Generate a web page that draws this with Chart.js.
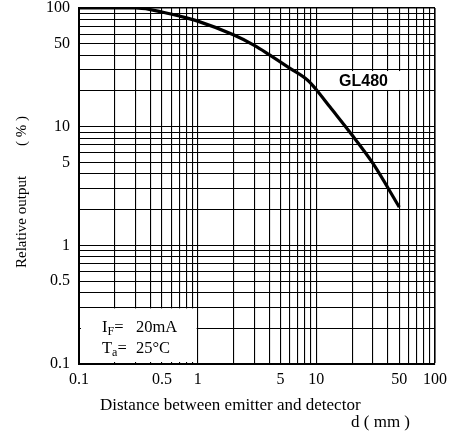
<!DOCTYPE html>
<html>
<head>
<meta charset="utf-8">
<script src="https://cdn.jsdelivr.net/npm/chart.js"></script>
<style>
  html, body { margin: 0; padding: 0; background: #fff; }
  #wrap { width: 455px; height: 439px; position: relative; }
</style>
</head>
<body>
<div id="wrap"><canvas id="chart"></canvas></div>
<script>
// distance (mm) and relative output (%)
const distance = [0.1, 0.3, 0.4, 0.5, 0.7, 1, 2, 3, 4, 6, 8.5, 10, 13, 20, 30, 50];
const relOutput = [100, 100, 97, 92.5, 85.5, 77.5, 59.5, 48.5, 40.5, 31, 24.5, 20.5, 14.7, 8.5, 4.9, 2.1];

// grid lines and labelled ticks
const gridValues = [0.1, 0.2, 0.3, 0.4, 0.5, 0.6, 0.7, 0.8, 0.9,
  1, 2, 3, 4, 5, 6, 7, 8, 9, 10, 20, 30, 40, 50, 60, 70, 80, 90, 100];
const xTickLabels = ['0.1', '0.5', '1', '5', '10', '50', '100'];
const yTickLabels = ['0.1', '0.5', '1', '5', '10', '50', '100'];

const seriesName = 'GL480';
const conditions = [['I', 'F', '=', '20mA'], ['T', 'a', '=', '25°C']];
const xTitle = 'Distance between emitter and detector';
const xUnit = 'd ( mm )';
const yTitle = 'Relative output';
const yUnit = '( % )';

const serif = '"Liberation Serif", "Times New Roman", serif';
Chart.defaults.font.family = serif;
Chart.defaults.color = '#000';

const setTicks = scale => { scale.ticks = gridValues.map(v => ({ value: v })); };
const labelFor = list => v => list.includes(String(v)) ? String(v) : '';
const gridWidth = c => (c.tick && c.tick.value === 100 ? 1.6 : 1.1);

const extras = {
  id: 'extras',
  beforeDatasetsDraw(chart) {
    const { ctx, scales: { x, y } } = chart;
    ctx.save();
    ctx.fillStyle = '#fff';
    // condition box (lower left)
    let l = x.getPixelForValue(0.1) + 2, r = x.getPixelForValue(1) - 1;
    let t = y.getPixelForValue(0.3) + 1, b = y.getPixelForValue(0.1) - 2;
    ctx.fillRect(l, t, r - l, b - t);
    // series label box
    l = x.getPixelForValue(10) + 1; r = x.getPixelForValue(60) - 1;
    t = y.getPixelForValue(30) + 1; b = y.getPixelForValue(20) - 1;
    ctx.fillRect(l, t, r - l, b - t);
    ctx.restore();
  },
  afterDraw(chart) {
    const { ctx, scales: { x, y } } = chart;
    ctx.save();
    ctx.fillStyle = '#000';
    // series label
    ctx.font = 'bold 16px "Liberation Sans", Arial, sans-serif';
    ctx.textAlign = 'center';
    ctx.textBaseline = 'middle';
    ctx.fillText(seriesName, (x.getPixelForValue(10) + x.getPixelForValue(60)) / 2 + 1,
      (y.getPixelForValue(30) + y.getPixelForValue(20)) / 2 + 1);
    // conditions
    ctx.textAlign = 'left';
    ctx.textBaseline = 'alphabetic';
    conditions.forEach((c, i) => {
      let px = 102;
      const base = 332 + i * 21;
      ctx.font = '16.5px ' + serif;
      ctx.fillText(c[0], px, base);
      px += ctx.measureText(c[0]).width;
      ctx.font = '12px ' + serif;
      ctx.fillText(c[1], px, base + 3);
      px += ctx.measureText(c[1]).width;
      ctx.font = '16.5px ' + serif;
      ctx.fillText(c[2], px, base);
      ctx.fillText(c[3], 136, base);
    });
    // axis titles
    ctx.font = '17px ' + serif;
    ctx.fillText(xTitle, 100, 410);
    ctx.fillText(xUnit, 351, 427);
    ctx.translate(26, 268);
    ctx.rotate(-Math.PI / 2);
    ctx.font = '15px ' + serif;
    ctx.fillText(yTitle, 0, 0);
    ctx.fillText(yUnit, 122, 0);
    ctx.restore();
  }
};

new Chart(document.getElementById('chart'), {
  type: 'scatter',
  data: {
    datasets: [{
      label: seriesName,
      data: distance.map((d, i) => ({ x: d, y: relOutput[i] })),
      showLine: true,
      borderColor: '#000',
      borderWidth: 3.2,
      pointRadius: 0,
      cubicInterpolationMode: 'monotone'
    }]
  },
  options: {
    responsive: true,
    maintainAspectRatio: false,
    animation: false,
    layout: { padding: { top: 8, right: 20, left: 0, bottom: 0 } },
    plugins: { legend: { display: false }, tooltip: { enabled: false } },
    scales: {
      x: {
        type: 'logarithmic',
        min: 0.1, max: 100,
        afterBuildTicks: setTicks,
        afterFit: s => { s.height = 75; s.paddingLeft = 0; s.paddingRight = 0; },
        grid: { color: '#000', lineWidth: gridWidth, drawTicks: false },
        border: { color: '#000', width: 2 },
        ticks: { autoSkip: false, maxRotation: 0, padding: 6, font: { size: 16 }, callback: labelFor(xTickLabels) }
      },
      y: {
        type: 'logarithmic',
        min: 0.1, max: 100,
        afterBuildTicks: setTicks,
        afterFit: s => { s.width = 79; s.paddingTop = 0; s.paddingBottom = 0; },
        grid: { color: '#000', lineWidth: gridWidth, drawTicks: false },
        border: { color: '#000', width: 2 },
        ticks: { autoSkip: false, padding: 9, font: { size: 16 }, callback: labelFor(yTickLabels) }
      }
    }
  },
  plugins: [extras]
});
</script>
</body>
</html>
